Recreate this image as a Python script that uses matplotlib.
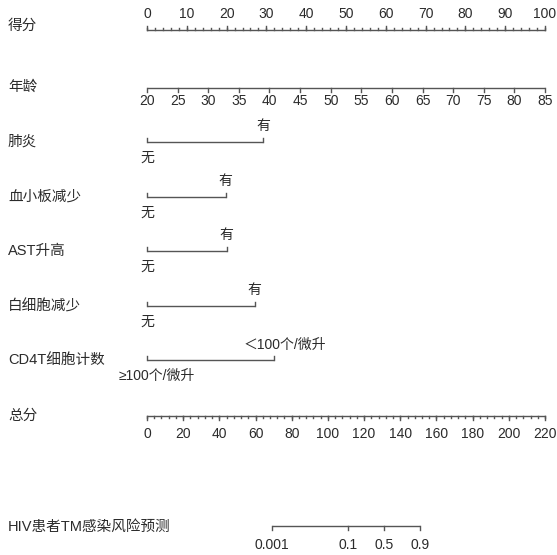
import numpy as np
import matplotlib
matplotlib.use("Agg")
import matplotlib.pyplot as plt

plt.rcParams["font.family"] = ["Liberation Sans", "Noto Sans CJK SC", "DejaVu Sans"]

# 得分轴
points_major = np.arange(0, 101, 10)
points_minor = np.arange(0, 101, 2)

# 年龄
age_ticks = np.arange(20, 86, 5)
age_min, age_max = 20, 85

# 分类变量: 名称, 无/有 对应的得分, 标签
cat_names = ["肺炎", "血小板减少", "AST升高", "白细胞减少", "CD4T细胞计数"]
cat_points = [29.2, 19.8, 20.0, 27.1, 31.9]
cat_low_labels = ["无", "无", "无", "无", "≥100个/微升"]
cat_high_labels = ["有", "有", "有", "有", "＜100个/微升"]

# 总分
total_max = 220
total_major = np.arange(0, 221, 20)
total_minor = np.arange(0, 221, 4)

# 风险预测 (总分 = 截距 + 斜率 * logit(p))
risk_ticks = [0.001, 0.1, 0.5, 0.9]
risk_labels = ["0.001", "0.1", "0.5", "0.9"]
risk_center, risk_slope = 131.0, 8.95

TXT = "#2b2b2b"
LINE = "#555555"
LW = 1.0
FS = 10

fig = plt.figure(figsize=(5.57, 5.55), dpi=100)
ax = fig.add_axes([0, 0, 1, 1])
# x: 得分坐标, y: 像素坐标
x0, scale = 147, 3.98
ax.set_xlim(-x0 / scale, (557 - x0) / scale)
ax.set_ylim(555, 0)
ax.set_axis_off()


def label(y, text):
    ax.text(-x0 / scale + 8 / scale, y, text, ha="left", va="center",
            fontsize=10.5, color=TXT)


def hline(xa, xb, y):
    ax.plot([xa, xb], [y, y], color=LINE, lw=LW, solid_capstyle="butt")


def ticks(xs, y, length):
    for x in xs:
        ax.plot([x, x], [y, y + length], color=LINE, lw=LW)


# 得分
y = 30
label(26, "得分")
hline(0, 100, y)
ticks(points_major, y, -4)
ticks(points_minor, y, -2)
for v in points_major:
    ax.text(v, 14, str(v), ha="center", va="center", fontsize=FS, color=TXT)

# 年龄
y = 88
label(87, "年龄")
age_x = (age_ticks - age_min) / (age_max - age_min) * 100
hline(0, 100, y)
ticks(age_x, y, 4)
for v, x in zip(age_ticks, age_x):
    ax.text(x, 101, str(v), ha="center", va="center", fontsize=FS, color=TXT)

# 分类变量
row_y = [142, 197, 251, 306, 360]
for name, pts, lo, hi, y in zip(cat_names, cat_points, cat_low_labels,
                                 cat_high_labels, row_y):
    label(y, name)
    hline(0, pts, y)
    ticks([0, pts], y, -4)
    if lo == "无":
        ax.text(0, y + 16, lo, ha="center", va="center", fontsize=FS, color=TXT)
        ax.text(pts, y - 16, hi, ha="center", va="center", fontsize=FS, color=TXT)
    else:
        ax.text(10 / scale, y + 16, lo, ha="center", va="center", fontsize=FS, color=TXT)
        ax.text(pts + 11 / scale, y - 15, hi, ha="center", va="center", fontsize=FS, color=TXT)

# 总分
y = 416
label(416, "总分")
hline(0, 100, y)
ticks(total_major / total_max * 100, y, 4)
ticks(total_minor / total_max * 100, y, 2)
for v in total_major:
    ax.text(v / total_max * 100, 434, str(v), ha="center", va="center",
            fontsize=FS, color=TXT)

# 风险
y = 526
label(527, "HIV患者TM感染风险预测")
p = np.array(risk_ticks)
risk_x = (risk_center + risk_slope * np.log(p / (1 - p))) / total_max * 100
hline(risk_x[0], risk_x[-1], y)
ticks(risk_x, y, 4)
for x, s in zip(risk_x, risk_labels):
    ax.text(x, 545, s, ha="center", va="center", fontsize=FS, color=TXT)

fig.savefig("out.png", dpi=100)
